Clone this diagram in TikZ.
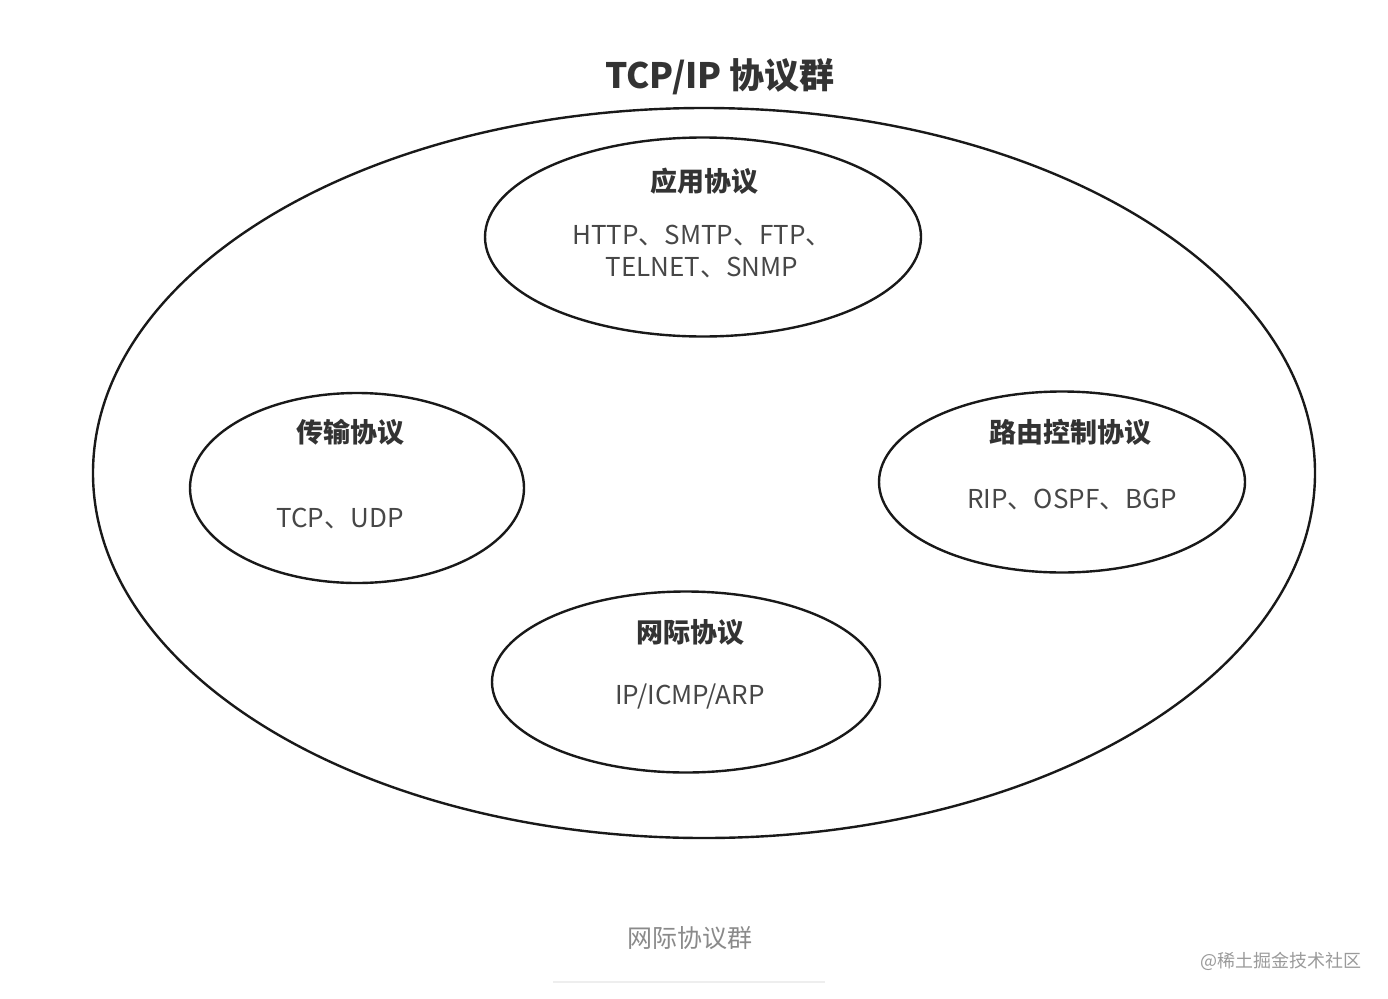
\documentclass[tikz,border=0pt]{standalone}
\usepackage{fontspec}
\setmainfont{Noto Sans CJK SC}
\usetikzlibrary{shapes.geometric}

\definecolor{inkdark}{HTML}{333333}
\definecolor{inktext}{HTML}{474747}
\definecolor{inkcap}{HTML}{8A8A8A}
\definecolor{inkmark}{HTML}{9A9A9A}
\definecolor{inkrule}{HTML}{EEEEEE}

\tikzset{
  ring/.style={draw=black!90,line width=2.4pt,ellipse,inner sep=0pt},
  heading/.style={text=inkdark,font=\fontsize{27}{32}\selectfont\bfseries},
  members/.style={text=inktext,font=\fontsize{26}{32}\selectfont,align=center},
}

\begin{document}
\begin{tikzpicture}[x=1pt,y=-1pt]
        \useasboundingbox (0,0) rectangle (1388,998);

        \node (title) [text=inkdark,font=\fontsize{35}{40}\selectfont\bfseries] at (720,77) {TCP/IP 协议群};

        \node (suite) [ring,minimum width=1222pt,minimum height=730pt] at (704,473) {};
        \node (app) [ring,minimum width=436pt,minimum height=199pt] at (703,237) {};
        \node (trans) [ring,minimum width=334pt,minimum height=190pt] at (357,488) {};
        \node (route) [ring,minimum width=366pt,minimum height=181pt] at (1062,482) {};
        \node (inet) [ring,minimum width=388pt,minimum height=181pt] at (686,682) {};

        \node (apphead) [heading] at (704,181) {应用协议};
        \node (applist) [members] at (702,252) {HTTP、SMTP、FTP、\\TELNET、SNMP};

        \node (transhead) [heading] at (350,432) {传输协议};
        \node (translist) [members] at (340,519) {TCP、UDP};

        \node (routehead) [heading] at (1070,432) {路由控制协议};
        \node (routelist) [members] at (1072,500) {RIP、OSPF、BGP};

        \node (inethead) [heading] at (690,632) {网际协议};
        \node (inetlist) [members] at (690,696) {IP/ICMP/ARP};

        \node (caption) [text=inkcap,font=\fontsize{25}{30}\selectfont] at (690,938) {网际协议群};
        \coordinate (ruleL) at (553,982);
        \coordinate (ruleR) at (825,982);
        \draw[inkrule,line width=2pt] (ruleL) -- (ruleR);

        \node (mark) [text=inkmark,font=\fontsize{18}{22}\selectfont] at (1281,961) {@稀土掘金技术社区};
    \end{tikzpicture}
\end{document}
